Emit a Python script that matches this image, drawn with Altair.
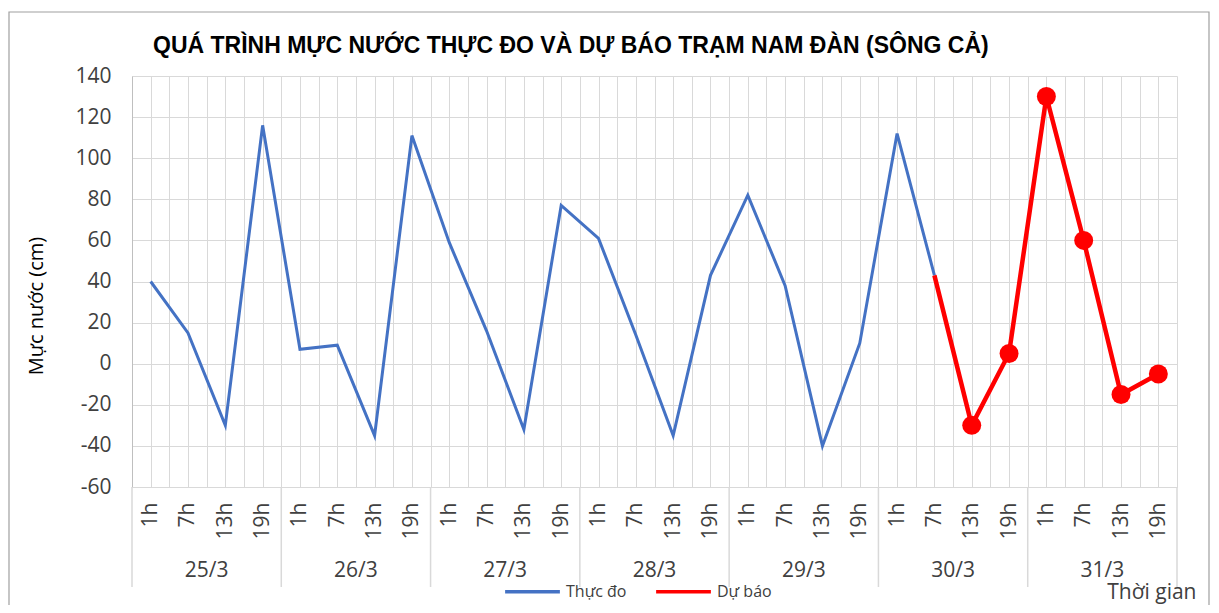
import json
import altair as alt
import pandas as pd

# ---- data ----
title_text = "QUÁ TRÌNH MỰC NƯỚC THỰC ĐO VÀ DỰ BÁO TRẠM  NAM ĐÀN (SÔNG CẢ)"
y_title = "Mực nước (cm)"
x_title = "Thời gian"
hours = ["1h", "7h", "13h", "19h"]
dates = ["25/3", "26/3", "27/3", "28/3", "29/3", "30/3", "31/3"]
observed = [40, 15, -30, 116,
            7, 9, -35, 111,
            59, 16, -32, 77,
            61, 14, -35, 43,
            82, 38, -40, 10,
            112, 43]
forecast_start = 21
forecast = [43, -30, 5, 130, 60, -15, -5]
y_ticks = [-60, -40, -20, 0, 20, 40, 60, 80, 100, 120, 140]

series_names = ["Thực đo", "Dự báo"]
series_colors = ["#4472C4", "#FF0000"]

W, H = 1045, 411
n_cat = len(dates) * len(hours)

obs_df = pd.DataFrame({"idx": list(range(len(observed))), "value": observed,
                       "series": series_names[0]})
fc_df = pd.DataFrame({"idx": list(range(forecast_start, forecast_start + len(forecast))),
                      "value": forecast, "series": series_names[1]})
pt_df = fc_df.iloc[1:]
date_df = pd.DataFrame({"date": dates,
                        "idx": [i * len(hours) + (len(hours) - 1) / 2 for i in range(len(dates))]})
sep_df = pd.DataFrame({"idx": [i * len(hours) - 0.5 for i in range(len(dates) + 1)]})
half_steps = [k / 2 for k in range(-1, 2 * n_cat)]

FONT = "Open Sans"
TXT = "#404040"

xscale = alt.Scale(domain=[-0.5, n_cat - 0.5], nice=False, zero=False)
yscale = alt.Scale(domain=[-60, 140], nice=False, zero=False)
cscale = alt.Scale(domain=series_names, range=series_colors)
legend = alt.Legend(title=None, orient="none", legendX=371, legendY=486,
                    direction="horizontal", symbolType="stroke",
                    symbolSize=3000, symbolStrokeWidth=3.5,
                    labelFont=FONT, labelFontSize=16, labelColor=TXT,
                    labelOffset=4, columnPadding=22)
color = alt.Color("series:N", scale=cscale, legend=legend)

label_expr = ("datum.value % 1 == 0 ? " + json.dumps(hours) +
              "[datum.value % " + str(len(hours)) + "] : ''")

x_axis = alt.Axis(values=half_steps, grid=True, gridColor="#d9d9d9", gridWidth=1,
                  ticks=False, domain=True, domainColor="#d9d9d9",
                  labelExpr=label_expr, labelAngle=270, labelAlign="right",
                  labelBaseline="middle", labelPadding=15, labelOverlap=False,
                  labelFlush=False, labelBound=False,
                  labelFont=FONT, labelFontSize=21, labelColor=TXT,
                  title=x_title, titleFont=FONT, titleFontSize=21,
                  titleFontWeight="normal", titleColor=TXT,
                  titleAlign="right", titleBaseline="alphabetic",
                  titleX=1064, titleY=111, titleAnchor="end")
y_axis = alt.Axis(values=y_ticks, grid=True, gridColor="#d9d9d9", gridWidth=1,
                  ticks=False, domain=True, domainColor="#bfbfbf",
                  labelExpr="toString(datum.value)",
                  labelFont=FONT, labelFontSize=21, labelColor=TXT,
                  labelPadding=21, title=None)

x_enc = alt.X("idx:Q", scale=xscale, axis=x_axis, title=x_title)
y_enc = alt.Y("value:Q", scale=yscale, axis=y_axis)

obs_line = alt.Chart(obs_df).mark_line(strokeWidth=3).encode(
    x=x_enc, y=y_enc, color=color, order="idx:Q")
fc_line = alt.Chart(fc_df).mark_line(strokeWidth=4.5).encode(
    x=x_enc, y=y_enc, color=color, order="idx:Q")
fc_pts = alt.Chart(pt_df).mark_point(filled=True, size=360, opacity=1).encode(
    x=x_enc, y=y_enc, color=color)

seps = alt.Chart(sep_df).mark_rule(color="#d9d9d9", strokeWidth=1.5).encode(
    x=x_enc, y=alt.value(H), y2=alt.value(H + 100))
date_txt = alt.Chart(date_df).mark_text(font=FONT, fontSize=21, color=TXT,
                                        baseline="middle", align="center").encode(
    x=x_enc, y=alt.value(H + 84), text="date:N")

one = pd.DataFrame({"t": [title_text], "yt": [y_title]})
frame = alt.Chart(one).mark_rect(
    fill="transparent", stroke="#a0a0a0", strokeWidth=1.2).encode(
    x=alt.value(-123), x2=alt.value(1077), y=alt.value(-64), y2=alt.value(580))
title = alt.Chart(one).mark_text(font="Liberation Sans", fontSize=23,
                                 fontWeight="bold", color="#000000",
                                 align="left", baseline="alphabetic").encode(
    x=alt.value(21), y=alt.value(-23), text="t:N")
ytitle = alt.Chart(one).mark_text(font=FONT, fontSize=20, color="#000000", angle=270,
                                  align="center", baseline="middle").encode(
    x=alt.value(-95), y=alt.value(230), text="yt:N")

chart = alt.layer(obs_line, frame, seps, date_txt, fc_line, fc_pts, title, ytitle).properties(
    width=W, height=H,
    autosize=alt.AutoSizeParams(type="none"),
    padding={"left": 124, "top": 68, "right": 34, "bottom": 118},
).configure_view(stroke=None)

chart.save("out.html", embed_options={"renderer": "svg", "actions": False})
